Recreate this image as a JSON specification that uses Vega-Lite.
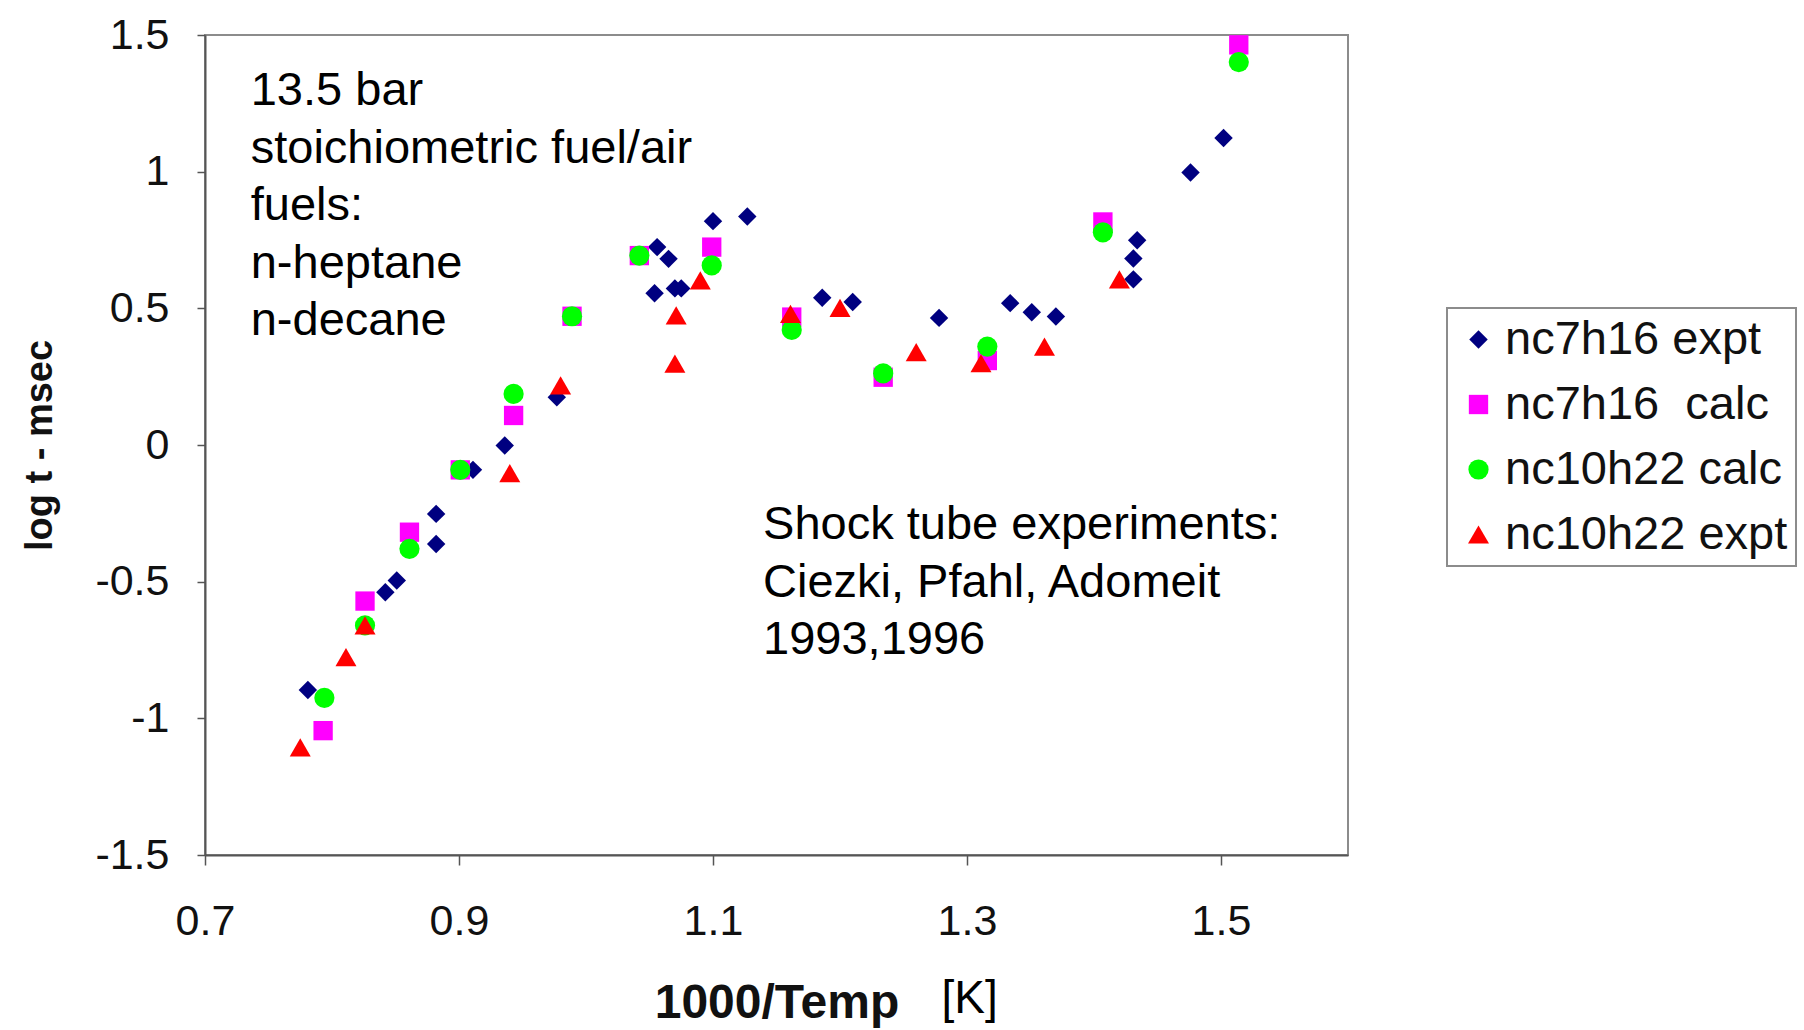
{
  "$schema": "https://vega.github.io/schema/vega-lite/v6.json",
  "width": 1143,
  "height": 820,
  "autosize": {"type": "none"},
  "padding": {"left": 205, "top": 35, "right": 456, "bottom": 175},
  "background": "white",
  "config": {
    "font": "Liberation Sans",
    "view": {"stroke": "#8c8c8c", "strokeWidth": 2},
    "axis": {
      "grid": false,
      "labelFlush": false,
      "labelOverlap": false,
      "domainColor": "#555555",
      "domainWidth": 2,
      "tickColor": "#555555",
      "tickWidth": 1.5,
      "labelFont": "Liberation Sans",
      "labelColor": "#111111",
      "titleColor": "#111111",
      "titleFont": "Liberation Sans",
      "titleFontWeight": "bold"
    },
    "legend": {
      "orient": "none",
      "legendX": 1242,
      "legendY": 273,
      "strokeColor": "#8c8c8c",
      "strokeWidth": 2,
      "fillColor": "white",
      "padding": 8,
      "rowPadding": 17,
      "labelFontSize": 47,
      "labelFont": "Liberation Sans",
      "labelColor": "#111111",
      "labelLimit": 600,
      "labelOffset": 3,
      "symbolSize": 200,
      "symbolStrokeWidth": 0
    }
  },
  "datasets": {
    "points": [
      {"series": "nc7h16 expt", "x": 0.781, "y": -0.896},
      {"series": "nc7h16 expt", "x": 0.842, "y": -0.539},
      {"series": "nc7h16 expt", "x": 0.851, "y": -0.496},
      {"series": "nc7h16 expt", "x": 0.882, "y": -0.362},
      {"series": "nc7h16 expt", "x": 0.882, "y": -0.252},
      {"series": "nc7h16 expt", "x": 0.911, "y": -0.091},
      {"series": "nc7h16 expt", "x": 0.936, "y": -0.002},
      {"series": "nc7h16 expt", "x": 0.977, "y": 0.175},
      {"series": "nc7h16 expt", "x": 1.056, "y": 0.724},
      {"series": "nc7h16 expt", "x": 1.065, "y": 0.681},
      {"series": "nc7h16 expt", "x": 1.054, "y": 0.555},
      {"series": "nc7h16 expt", "x": 1.070, "y": 0.573},
      {"series": "nc7h16 expt", "x": 1.075, "y": 0.573},
      {"series": "nc7h16 expt", "x": 1.100, "y": 0.819},
      {"series": "nc7h16 expt", "x": 1.127, "y": 0.836},
      {"series": "nc7h16 expt", "x": 1.186, "y": 0.539},
      {"series": "nc7h16 expt", "x": 1.210, "y": 0.523},
      {"series": "nc7h16 expt", "x": 1.278, "y": 0.465},
      {"series": "nc7h16 expt", "x": 1.334, "y": 0.519},
      {"series": "nc7h16 expt", "x": 1.351, "y": 0.486},
      {"series": "nc7h16 expt", "x": 1.370, "y": 0.470},
      {"series": "nc7h16 expt", "x": 1.431, "y": 0.606},
      {"series": "nc7h16 expt", "x": 1.431, "y": 0.682},
      {"series": "nc7h16 expt", "x": 1.434, "y": 0.749},
      {"series": "nc7h16 expt", "x": 1.476, "y": 0.997},
      {"series": "nc7h16 expt", "x": 1.502, "y": 1.123},
      {"series": "nc7h16\u00a0 calc", "x": 0.793, "y": -1.045},
      {"series": "nc7h16\u00a0 calc", "x": 0.826, "y": -0.571},
      {"series": "nc7h16\u00a0 calc", "x": 0.861, "y": -0.319},
      {"series": "nc7h16\u00a0 calc", "x": 0.901, "y": -0.091},
      {"series": "nc7h16\u00a0 calc", "x": 0.943, "y": 0.108},
      {"series": "nc7h16\u00a0 calc", "x": 0.989, "y": 0.471},
      {"series": "nc7h16\u00a0 calc", "x": 1.042, "y": 0.693},
      {"series": "nc7h16\u00a0 calc", "x": 1.099, "y": 0.724},
      {"series": "nc7h16\u00a0 calc", "x": 1.162, "y": 0.468},
      {"series": "nc7h16\u00a0 calc", "x": 1.234, "y": 0.248},
      {"series": "nc7h16\u00a0 calc", "x": 1.316, "y": 0.309},
      {"series": "nc7h16\u00a0 calc", "x": 1.407, "y": 0.816},
      {"series": "nc7h16\u00a0 calc", "x": 1.514, "y": 1.464},
      {"series": "nc10h22 calc", "x": 0.794, "y": -0.925},
      {"series": "nc10h22 calc", "x": 0.826, "y": -0.660},
      {"series": "nc10h22 calc", "x": 0.861, "y": -0.380},
      {"series": "nc10h22 calc", "x": 0.901, "y": -0.091},
      {"series": "nc10h22 calc", "x": 0.943, "y": 0.187},
      {"series": "nc10h22 calc", "x": 0.989, "y": 0.471},
      {"series": "nc10h22 calc", "x": 1.042, "y": 0.693},
      {"series": "nc10h22 calc", "x": 1.099, "y": 0.657},
      {"series": "nc10h22 calc", "x": 1.162, "y": 0.421},
      {"series": "nc10h22 calc", "x": 1.234, "y": 0.262},
      {"series": "nc10h22 calc", "x": 1.316, "y": 0.360},
      {"series": "nc10h22 calc", "x": 1.407, "y": 0.778},
      {"series": "nc10h22 calc", "x": 1.514, "y": 1.401},
      {"series": "nc10h22 expt", "x": 0.775, "y": -1.106},
      {"series": "nc10h22 expt", "x": 0.811, "y": -0.776},
      {"series": "nc10h22 expt", "x": 0.826, "y": -0.660},
      {"series": "nc10h22 expt", "x": 0.940, "y": -0.103},
      {"series": "nc10h22 expt", "x": 0.980, "y": 0.218},
      {"series": "nc10h22 expt", "x": 1.070, "y": 0.298},
      {"series": "nc10h22 expt", "x": 1.071, "y": 0.474},
      {"series": "nc10h22 expt", "x": 1.090, "y": 0.602},
      {"series": "nc10h22 expt", "x": 1.161, "y": 0.480},
      {"series": "nc10h22 expt", "x": 1.200, "y": 0.502},
      {"series": "nc10h22 expt", "x": 1.260, "y": 0.340},
      {"series": "nc10h22 expt", "x": 1.311, "y": 0.299},
      {"series": "nc10h22 expt", "x": 1.361, "y": 0.360},
      {"series": "nc10h22 expt", "x": 1.420, "y": 0.606}
    ],
    "notes": [
      {"label": "13.5 bar\nstoichiometric fuel/air\nfuels:\nn-heptane\nn-decane", "x": 0.736, "y": 1.378},
      {"label": "Shock tube experiments:\nCiezki, Pfahl, Adomeit\n1993,1996", "x": 1.1394, "y": -0.209}
    ],
    "unit": [
      {"label": "[K]", "x": 1.302, "y": -1.5}
    ]
  },
  "layer": [
    {
      "data": {"name": "points"},
      "mark": {"type": "point", "filled": true, "opacity": 1, "strokeWidth": 0},
      "encoding": {
        "x": {
          "field": "x", "type": "quantitative",
          "scale": {"domain": [0.7, 1.6], "nice": false, "zero": false},
          "axis": {
            "title": "1000/Temp",
            "values": [0.7, 0.9, 1.1, 1.3, 1.5],
            "labelExpr": "'' + datum.value",
            "labelFontSize": 43,
            "tickSize": 10,
            "labelPadding": 35,
            "titleFontSize": 48,
            "titlePadding": 36
          }
        },
        "y": {
          "field": "y", "type": "quantitative",
          "scale": {"domain": [-1.5, 1.5], "nice": false, "zero": false},
          "axis": {
            "title": "log t - msec",
            "values": [-1.5, -1, -0.5, 0, 0.5, 1, 1.5],
            "labelExpr": "'' + datum.value",
            "labelFontSize": 43,
            "tickSize": 8,
            "labelPadding": 28,
            "titleFontSize": 38,
            "titlePadding": 35
          }
        },
        "color": {
          "field": "series", "type": "nominal",
          "scale": {
            "domain": ["nc7h16 expt", "nc7h16\u00a0 calc", "nc10h22 calc", "nc10h22 expt"],
            "range": ["#000080", "#ff00ff", "#00ff00", "#ff0000"]
          },
          "legend": {"title": null}
        },
        "shape": {
          "field": "series", "type": "nominal",
          "scale": {
            "domain": ["nc7h16 expt", "nc7h16\u00a0 calc", "nc10h22 calc", "nc10h22 expt"],
            "range": ["diamond", "square", "circle", "triangle-up"]
          },
          "legend": {"title": null}
        },
        "size": {
          "field": "series", "type": "nominal",
          "scale": {
            "domain": ["nc7h16 expt", "nc7h16\u00a0 calc", "nc10h22 calc", "nc10h22 expt"],
            "range": [340, 441, 310, 270]
          },
          "legend": null
        }
      }
    },
    {
      "data": {"name": "notes"},
      "mark": {"type": "text", "align": "left", "baseline": "top", "fontSize": 47, "lineHeight": 57.5, "lineBreak": "\n", "font": "Liberation Sans", "color": "#000000"},
      "encoding": {
        "x": {"field": "x", "type": "quantitative"},
        "y": {"field": "y", "type": "quantitative"},
        "text": {"field": "label"}
      }
    },
    {
      "data": {"name": "unit"},
      "mark": {"type": "text", "align": "center", "baseline": "top", "fontSize": 46, "dy": 122, "font": "Liberation Sans", "color": "#000000"},
      "encoding": {
        "x": {"field": "x", "type": "quantitative"},
        "y": {"field": "y", "type": "quantitative"},
        "text": {"field": "label"}
      }
    }
  ]
}
